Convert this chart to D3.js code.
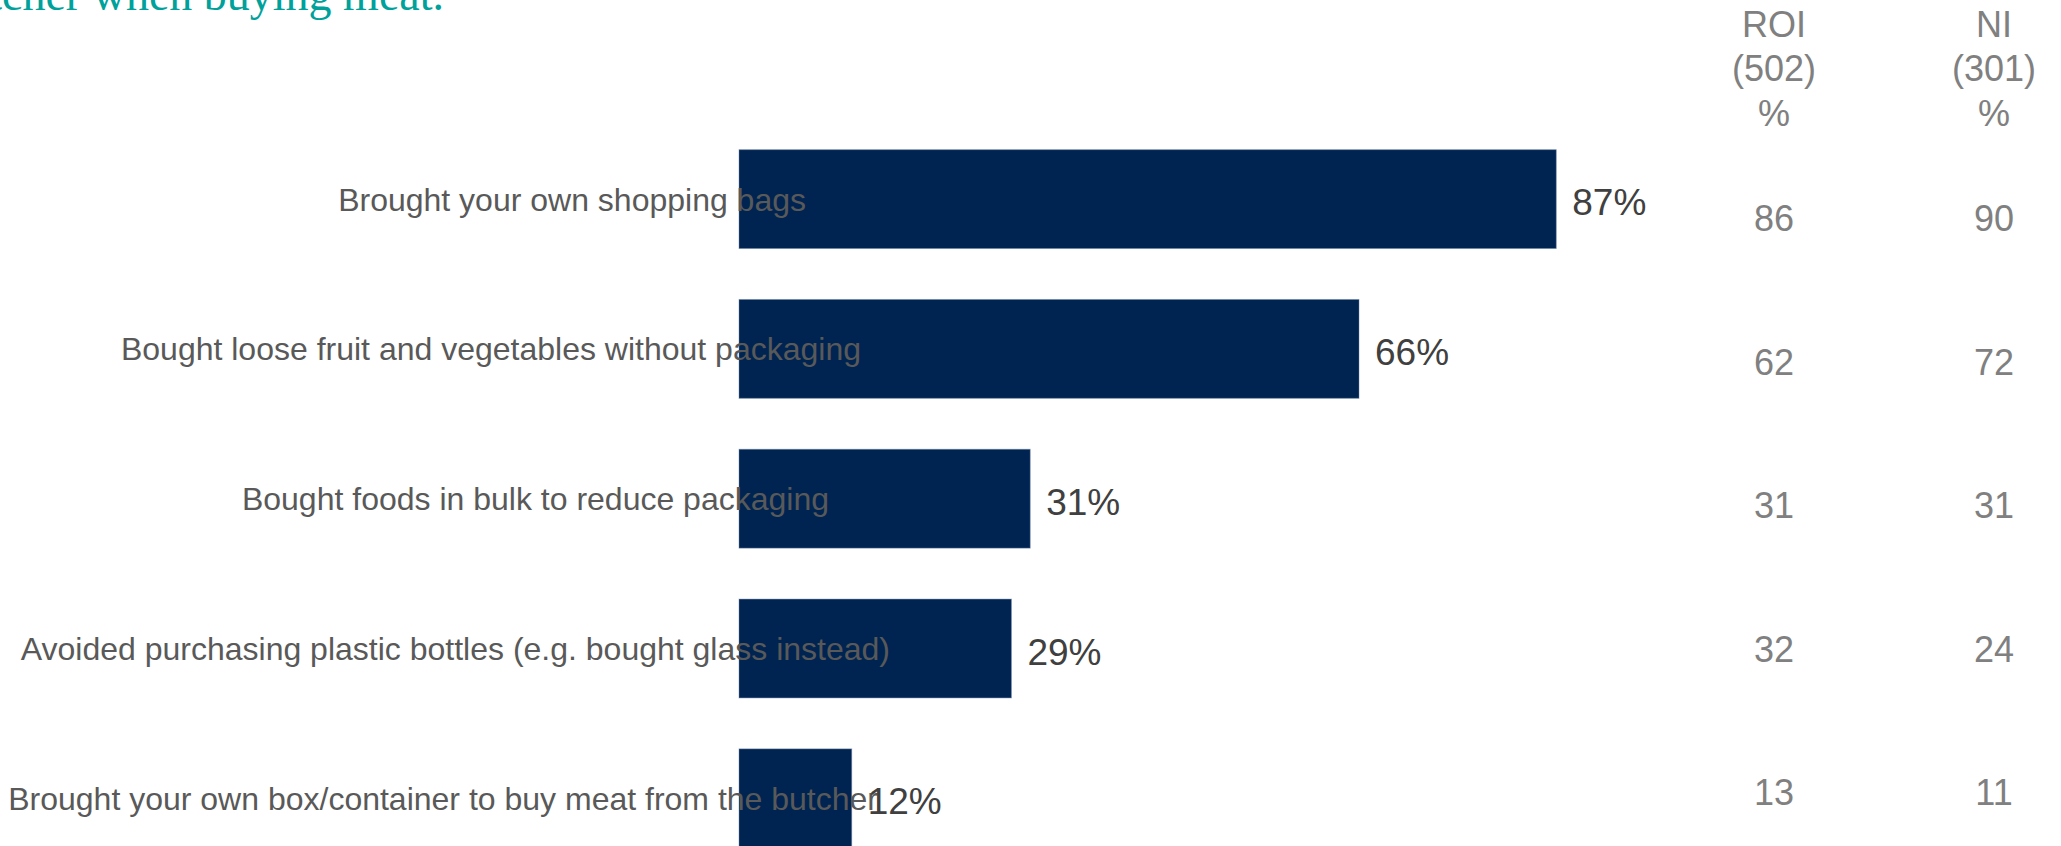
<!DOCTYPE html>
<html>
<head>
<meta charset="utf-8">
<script src="https://cdn.jsdelivr.net/npm/d3@7"></script>
<style>
  html, body { margin: 0; padding: 0; background: #ffffff; }
  svg { display: block; }
</style>
</head>
<body>
<svg id="chart" width="2061" height="846"></svg>
<script>
// Sustainable shopping behaviours: total share plus ROI / NI breakdown
const categories = [
  "Brought your own shopping bags",
  "Bought loose fruit and vegetables without packaging",
  "Bought foods in bulk to reduce packaging",
  "Avoided purchasing plastic bottles (e.g. bought glass instead)",
  "Brought your own box/container to buy meat from the butcher"
];
const totalPct = [87, 66, 31, 29, 12];
const roiPct = [86, 62, 31, 32, 13];
const niPct = [90, 72, 31, 24, 11];
const regions = ["ROI", "NI"];
const regionBases = [502, 301];
const titleTail = "from the butcher when buying meat.";

// Right edge of each category caption (text boxes sit at individual offsets)
const labelRightEdge = [806, 861, 829, 890, 878];

const svg = d3.select("#chart");
const W = 2061, H = 846;
const sans = "'Liberation Sans', Arial, Helvetica, sans-serif";

const x = d3.scaleLinear().domain([0, 100]).range([739, 1678.4]);
const y = d3.scaleBand().domain(categories)
  .range([124.2, 873.2]).paddingInner(0.34).paddingOuter(0.17);

const rowY = d3.scalePoint().domain(categories).range([231, 805]);
const colX = d3.scalePoint().domain(regions).range([1774, 1994]);

// Last line of the question title (upper part runs off the top edge)
svg.append("text")
  .attr("x", 444).attr("y", 10)
  .attr("text-anchor", "end")
  .attr("font-family", "'Liberation Serif', 'Times New Roman', serif")
  .attr("font-size", 46)
  .attr("fill", "#00a19a")
  .text(titleTail);

const rows = categories.map((c, i) => ({
  cat: c, total: totalPct[i], roi: roiPct[i], ni: niPct[i], edge: labelRightEdge[i]
}));

// Bars
svg.append("g").selectAll("rect").data(rows).join("rect")
  .attr("x", x(0))
  .attr("y", d => y(d.cat))
  .attr("width", d => x(d.total) - x(0))
  .attr("height", y.bandwidth())
  .attr("fill", "#002452")
  .attr("stroke", "#6f84a6")
  .attr("stroke-opacity", 0.45)
  .attr("stroke-width", 1);

// Category captions (drawn over the bars)
svg.append("g").selectAll("text").data(rows).join("text")
  .attr("x", d => d.edge)
  .attr("y", d => y(d.cat) + y.bandwidth() / 2 + 11.5)
  .attr("text-anchor", "end")
  .attr("font-family", sans)
  .attr("font-size", 32)
  .attr("fill", "#595959")
  .text(d => d.cat);

// Total value labels
svg.append("g").selectAll("text").data(rows).join("text")
  .attr("x", d => x(d.total) + 16)
  .attr("y", d => y(d.cat) + y.bandwidth() / 2 + 16)
  .attr("font-family", sans)
  .attr("font-size", 37)
  .attr("fill", "#404040")
  .text(d => d.total + "%");

// Region column headers
const header = svg.append("g").selectAll("text").data(regions).join("text")
  .attr("text-anchor", "middle")
  .attr("font-family", sans)
  .attr("font-size", 36)
  .attr("fill", "#808080");
header.each(function(r, i) {
  const t = d3.select(this);
  const lines = [r, "(" + regionBases[i] + ")", "%"];
  lines.forEach((line, k) => {
    t.append("tspan")
      .attr("x", colX(r))
      .attr("y", 36.6 + k * 44.7)
      .text(line);
  });
});

// Region values table
const table = svg.append("g");
regions.forEach(r => {
  table.append("g").selectAll("text").data(rows).join("text")
    .attr("x", colX(r))
    .attr("y", d => rowY(d.cat))
    .attr("text-anchor", "middle")
    .attr("font-family", sans)
    .attr("font-size", 36)
    .attr("fill", "#808080")
    .text(d => r === "ROI" ? d.roi : d.ni);
});
</script>
</body>
</html>
